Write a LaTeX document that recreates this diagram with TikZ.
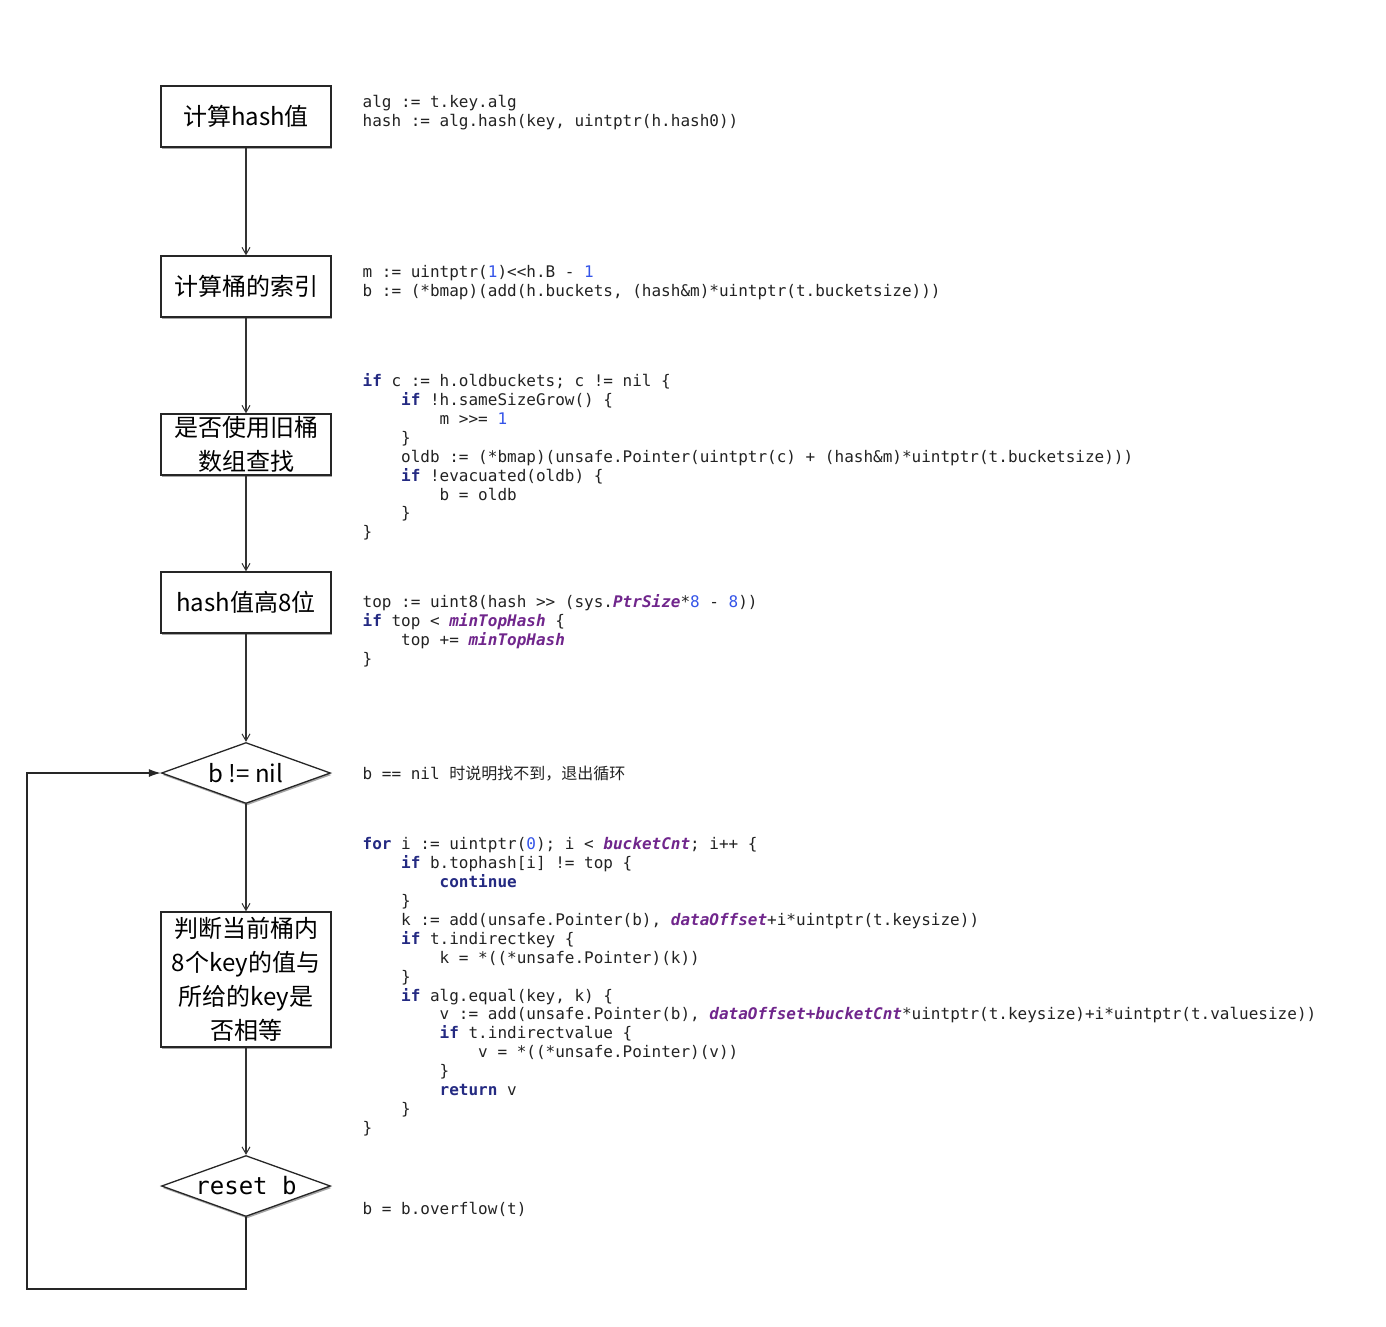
\documentclass[tikz,border=0pt]{standalone}
\usepackage{fontspec}
\usetikzlibrary{arrows.meta,shapes.geometric,shadows}
\setmainfont{Liberation Sans}
\setmonofont{DejaVu Sans Mono}
\newfontfamily\cjk{Noto Sans CJK SC}
\definecolor{codeink}{RGB}{34,34,34}
\definecolor{kwnavy}{RGB}{36,42,130}
\definecolor{numblue}{RGB}{52,84,232}
\definecolor{cstpurple}{RGB}{112,38,140}
\newcommand{\kw}[1]{\textcolor{kwnavy}{\bfseries #1}}
\newcommand{\nm}[1]{\textcolor{numblue}{#1}}
\newcommand{\cst}[1]{\textcolor{cstpurple}{\bfseries\itshape #1}}
\newcommand{\tb}{\hphantom{xxxx}}

\begin{document}
\begin{tikzpicture}[x=1pt,y=-1pt,line width=1.3pt,
  stepbox/.style={draw=black!85,fill=white,minimum width=170pt,minimum height=61pt,inner sep=0pt,align=center,font=\cjk\fontsize{24}{34}\selectfont,drop shadow={shadow xshift=1pt,shadow yshift=-2pt,opacity=.35,fill=black}},
  decision/.style={diamond,aspect=2.77,draw=black!85,fill=white,minimum width=169pt,minimum height=61pt,inner sep=0pt,drop shadow={shadow xshift=1pt,shadow yshift=-2pt,opacity=.35,fill=black}},
  code/.style={anchor=north west,inner sep=0pt,align=left,text=codeink,font=\ttfamily\fontsize{16}{18.9}\selectfont\frenchspacing,execute at begin node=\rule{0pt}{13pt}},
  flow/.style={draw=black!80,-{Straight Barb[length=7pt,width=8pt,line width=1pt]}},
  backflow/.style={draw=black!85,-{Latex[length=12pt,width=8pt]}}]
\path[use as bounding box] (0,0) rectangle (1386,1326);

% flow chart
\node[stepbox] (hashval) at (246,116.5) {计算hash值};
\node[stepbox] (bucketidx) at (246,286.5) {计算桶的索引};
\node[stepbox] (oldbkt) at (246,444.5) {是否使用旧桶\\数组查找};
\node[stepbox] (tophash) at (246,602.5) {hash值高8位};
\node[decision,font=\cjk\fontsize{24}{28}\selectfont] (notnil) at (246,773) {b != nil};
\node[stepbox,minimum height=135pt] (cmpkeys) at (246,979.5) {判断当前桶内\\8个key的值与\\所给的key是\\否相等};
\node[decision,font=\ttfamily\fontsize{24}{28}\selectfont] (resetb) at (246,1186) {reset b};
\coordinate (loopcorner) at (27,1289);

\draw[flow] (hashval) -- (bucketidx);
\draw[flow] (bucketidx) -- (oldbkt);
\draw[flow] (oldbkt) -- (tophash);
\draw[flow] (tophash) -- (notnil);
\draw[flow] (notnil) -- (cmpkeys);
\draw[flow] (cmpkeys) -- (resetb);
\draw[backflow] (resetb.south) |- (loopcorner) |- (notnil.west);

% code beside each step (top of first line = baseline - 13)
\node[code] (codehash) at (362,95) {alg := t.key.alg\\hash := alg.hash(key, uintptr(h.hash0))};
\node[code] (codeidx) at (362,265) {m := uintptr(\nm{1})<<h.B - \nm{1}\\b := (*bmap)(add(h.buckets, (hash\&m)*uintptr(t.bucketsize)))};
\node[code] (codeold) at (362,373) {\kw{if} c := h.oldbuckets; c != nil \{\\
\tb\kw{if} !h.sameSizeGrow() \{\\
\tb\tb m >>= \nm{1}\\
\tb\}\\
\tb oldb := (*bmap)(unsafe.Pointer(uintptr(c) + (hash\&m)*uintptr(t.bucketsize)))\\
\tb\kw{if} !evacuated(oldb) \{\\
\tb\tb b = oldb\\
\tb\}\\
\}};
\node[code] (codetop) at (362,594) {top := uint8(hash >> (sys.\cst{PtrSize}*\nm{8} - \nm{8}))\\
\kw{if} top < \cst{minTopHash} \{\\
\tb top += \cst{minTopHash}\\
\}};
\node[code] (codenil) at (362,765) {b == nil {\cjk\fontsize{16}{18}\selectfont 时说明找不到，退出循环}};
\node[code] (codeloop) at (362,837) {\kw{for} i := uintptr(\nm{0}); i < \cst{bucketCnt}; i++ \{\\
\tb\kw{if} b.tophash[i] != top \{\\
\tb\tb\kw{continue}\\
\tb\}\\
\tb k := add(unsafe.Pointer(b), \cst{dataOffset}+i*uintptr(t.keysize))\\
\tb\kw{if} t.indirectkey \{\\
\tb\tb k = *((*unsafe.Pointer)(k))\\
\tb\}\\
\tb\kw{if} alg.equal(key, k) \{\\
\tb\tb v := add(unsafe.Pointer(b), \cst{dataOffset+bucketCnt}*uintptr(t.keysize)+i*uintptr(t.valuesize))\\
\tb\tb\kw{if} t.indirectvalue \{\\
\tb\tb\tb v = *((*unsafe.Pointer)(v))\\
\tb\tb\}\\
\tb\tb\kw{return} v\\
\tb\}\\
\}};
\node[code] (codereset) at (362,1201) {b = b.overflow(t)};
\end{tikzpicture}
\end{document}
